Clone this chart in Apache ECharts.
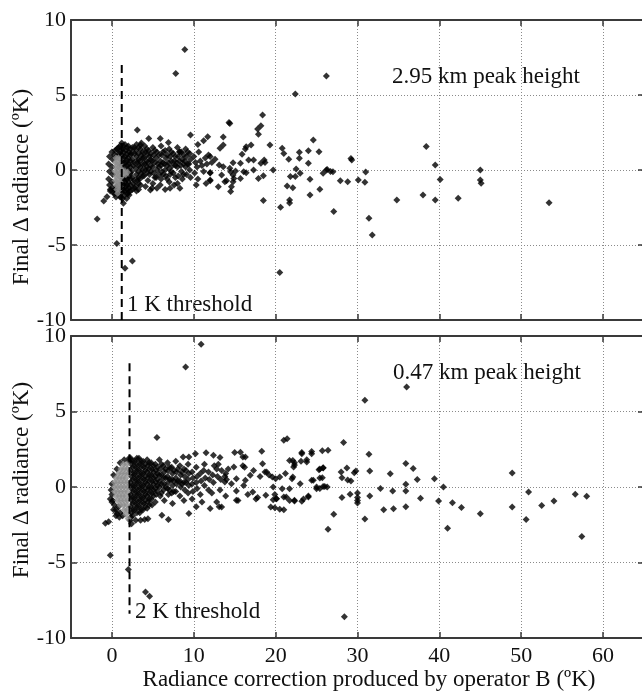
<!DOCTYPE html>
<html><head><meta charset="utf-8">
<script src="https://cdn.jsdelivr.net/npm/echarts@6.0.0/dist/echarts.min.js"></script>
<style>html,body{margin:0;padding:0;background:#fff;}#c{width:642px;height:694px;}</style>
</head><body><div id="c"></div>
<script>
// ---------- data ----------
const xTickValues = [0, 10, 20, 30, 40, 50, 60];
const yTickValues = [-10, -5, 0, 5, 10];

// top panel (2.95 km peak height)
const topCluster = [
[-0.3,0.9],[-0.4,0.4],[-0.3,-0.1],[-0.4,-0.6],[-0.3,-1.0],[-0.2,-1.3],
[0,1.2],[0.1,0.7],[0,0.2],[0.1,-0.3],[0,-0.8],[0.1,-1.2],[0.2,-1.5],
[0.4,1.3],[0.3,1.0],[0.4,-1.3],[0.3,-1.6],[0.5,-1.8],
[0.8,1.5],[0.9,1.1],[0.8,-1.4],[0.9,-1.7],
[1.2,1.8],[1.3,1.4],[1.2,1.0],[1.3,0.6],[1.2,0.3],[1.3,-0.6],[1.2,-0.9],[1.3,-1.2],[1.2,-1.5],[1.3,-1.9],
[1.6,1.7],[1.7,1.3],[1.6,0.9],[1.7,0.5],[1.6,0.2],[1.7,-0.5],[1.6,-0.8],[1.7,-1.1],[1.6,-1.4],
[2.0,1.6],[2.1,1.2],[2.0,0.8],[2.1,0.4],[2.0,0.0],[2.1,-0.4],[2.0,-0.8],[2.1,-1.2],[2.0,-1.5],
[2.5,1.5],[2.4,1.1],[2.5,0.7],[2.6,0.3],[2.4,-0.1],[2.5,-0.5],[2.6,-0.9],[2.5,-1.3],
[3.0,1.7],[2.9,1.3],[3.0,0.9],[3.1,0.5],[2.9,0.1],[3.0,-0.3],[3.1,-0.7],[2.9,-1.1],[3.0,-1.4],
[3.5,1.4],[3.6,1.0],[3.4,0.6],[3.5,0.2],[3.6,-0.2],[3.4,-0.6],[3.5,-1.0],
[4.0,1.6],[4.1,1.2],[3.9,0.8],[4.0,0.4],[4.1,0.0],[3.9,-0.4],[4.1,-1.1],
[4.5,1.3],[4.6,0.9],[4.4,0.5],[4.5,0.1],[4.6,-0.3],[4.4,-0.7],
[5.0,1.5],[5.1,1.0],[4.9,0.6],[5.0,0.2],[5.1,-0.2],[5.0,-0.9],[4.9,-1.2],
[5.5,1.2],[5.4,0.8],[5.6,0.4],[5.5,0.0],[5.4,-0.5],
[6.0,1.6],[6.1,1.0],[5.9,0.6],[6.0,0.3],[6.1,-0.1],[6.0,-0.6],[5.9,-1.0],
[6.5,1.3],[6.6,0.8],[6.4,0.4],[6.5,0.0],[6.6,-0.4],[6.5,-1.3],
[7.0,1.4],[7.1,0.9],[6.9,0.5],[7.0,0.1],[7.1,-0.3],[7.0,-0.8],
[7.5,1.1],[7.6,0.6],[7.4,0.3],[7.5,-0.2],[7.6,-1.0],
[8.0,1.5],[8.1,0.9],[7.9,0.5],[8.0,0.2],[8.1,-0.4],[8.0,-0.9],
[8.5,1.2],[8.6,0.7],[8.4,0.3],[8.5,-0.1],[8.6,-0.6],
[9.0,1.4],[9.1,0.9],[8.9,0.6],[9.0,0.2],[9.1,-0.3],
[9.5,1.1],[9.6,0.7],[9.4,0.4],[9.5,0.0],[9.6,-0.5],
[10.0,0.9],[10.2,0.5],[10.4,0.2],[10.1,-0.2],[10.6,1.2],[10.8,0.6],[11.0,0.3],[11.2,-0.1],
[11.4,0.8],[11.6,0.4],[11.8,1.0],[12.2,0.5],[10.5,-0.6],[11.5,-0.9],[10.3,-1.0]
];
const topClusterFill = [
[0.6,1.4],[0.6,0.9],[0.6,-1.1],[0.6,-1.5],[1.0,1.6],[1.0,1.2],[1.0,-1.4],[1.0,-1.8],
[1.4,1.6],[1.4,1.2],[1.4,0.8],[1.45,0.45],[1.4,-0.7],[1.4,-1.0],[1.4,-1.35],[1.5,-1.7],
[1.85,1.5],[1.85,1.05],[1.85,0.65],[1.85,0.3],[1.85,-0.6],[1.85,-1.0],[1.85,-1.3],[1.9,-1.6],
[2.25,1.4],[2.25,1.0],[2.25,0.6],[2.25,0.2],[2.25,-0.2],[2.25,-0.6],[2.25,-1.0],[2.25,-1.4],
[2.75,1.5],[2.75,1.1],[2.75,0.5],[2.75,-0.7],[2.75,-1.2],
[3.25,1.5],[3.25,1.1],[3.25,0.7],[3.25,0.3],[3.25,-0.1],[3.25,-0.5],[3.25,-0.9],[3.25,-1.3],
[3.75,1.2],[3.75,0.8],[3.75,0.4],[3.75,0.0],[3.75,-0.4],
[4.25,1.4],[4.25,1.0],[4.25,0.6],[4.25,0.2],[4.25,-0.2],
[4.75,1.1],[4.75,0.7],[4.75,0.3],[4.75,-0.1],[5.25,1.3],[5.25,0.5],[5.25,-0.5],
[5.75,1.0],[5.75,0.2],[5.75,-0.3],[6.25,1.2],[6.25,0.5],[6.25,-0.3],[6.75,1.0],[6.75,0.3],[6.75,-0.6],
[7.25,1.2],[7.25,0.6],[7.25,-0.1],[7.75,0.9],[7.75,0.3],[7.75,-0.5],[8.25,1.2],[8.25,0.6],
[8.75,1.0],[8.75,0.4],[8.75,-0.3],[9.25,1.2],[9.25,0.4]
];
const topScatter = [
[8.9,8.04],[7.8,6.44],[26.2,6.27],[22.4,5.07],[20.5,-6.84],[0.6,-4.9],[1.6,-6.55],[2.5,-6.07],
[-1.8,-3.27],[-1.0,-2.07],[-0.6,-1.78],[-0.2,-1.4],[1.4,-2.22],[1.8,-1.9],[2.1,-1.67],
[3.1,2.67],[4.5,2.1],[5.9,2.1],[6.9,1.84],[3.5,1.67],[3.6,1.8],[8.3,1.22],[9.6,2.33],
[11.7,2.22],[11.2,1.95],[10.5,1.7],[7.1,-1.22],[8.3,-1.22],[4.7,-1.33],[5.5,-1.22],[12.0,-0.67],[12.0,-0.2],
[18.4,3.67],[14.4,3.1],[18.2,2.95],[17.8,2.73],[17.9,2.38],[13.6,2.2],[13.6,1.67],[13.2,1.45],
[16.4,1.55],[16.3,1.4],[17.0,1.67],[19.3,1.67],[20.8,1.45],[21.0,1.1],[24.6,2.0],[22.9,1.18],
[24.0,1.29],[25.3,1.22],[22.9,0.78],[21.6,0.71],[24.0,0.45],[15.9,1.05],[16.7,0.67],[17.3,0.67],
[18.2,0.45],[18.6,0.67],[18.7,0.5],[14.8,0.49],[15.7,0.45],[12.6,0.71],[12.0,0.9],[13.1,0.33],
[13.6,0.22],[14.4,0.11],[14.5,-0.11],[15.1,-0.07],[16.1,-0.11],[17.3,0],[19.7,0],[22.5,0.07],
[26.3,0.04],[25.8,-0.22],[26.7,-0.1],[12.0,-0.16],[12.0,-0.71],[13.4,-0.33],[14.0,-0.71],
[14.8,-0.33],[14.9,-0.56],[14.8,-0.78],[15.7,-0.56],[16.4,-0.18],[17.9,-0.56],[18.5,-0.38],
[21.8,-0.44],[22.4,-0.44],[23.0,-0.22],[24.2,-0.62],[13.0,-1.11],[13.8,-0.78],[14.6,-1.11],
[14.5,-1.44],[21.4,-1.07],[22.1,-1.18],[25.4,-1.29],[24.2,-1.67],[18.5,-2.04],[20.6,-2.49],
[21.7,-2.0],[21.7,-2.2],[14.3,3.16],
[26.2,0],[27.0,-0.11],[27.9,-0.71],[28.8,-0.78],[27.1,-2.76],[29.2,0.76],[29.3,0.67],
[30.1,-0.67],[30.9,-0.82],[31.0,-0.13],[31.4,-3.22],[31.8,-4.33],[34.8,-2.0],[38.0,-1.67],
[38.4,1.56],[39.5,0.33],[39.5,-2.0],[40.1,-0.64],[42.3,-1.89],[45.0,0],[45.0,-0.67],[45.1,-0.89],[53.4,-2.18]
];
const topGray = [
[0.5,0.8],[0.8,0.8],[1.0,0.7],[0.4,0.5],[0.7,0.5],[1.0,0.4],[0.5,0.2],[0.8,0.2],[1.1,0.1],
[0.4,-0.1],[0.7,-0.1],[1.0,-0.2],[1.3,-0.1],[1.6,-0.1],[1.9,-0.15],[1.4,-0.3],[1.7,-0.3],
[0.5,-0.4],[0.8,-0.4],[1.1,-0.5],[0.4,-0.7],[0.7,-0.7],[1.0,-0.8],[0.5,-1.0],[0.8,-1.0],
[1.0,-1.1],[0.6,-1.3],[0.9,-1.3],[0.7,-1.55]
];
const topThreshold = [[1.2, 7], [1.2, -10]];

// bottom panel (0.47 km peak height)
const bottomCluster = [
[0.0,-0.5],[0.1,-0.9],[0.3,-1.2],[0.5,-1.5],[0.8,-1.3],[1.0,-1.7],[1.3,-1.9],[0.2,0.8],[0.6,1.2],[1.0,1.6],[1.5,1.8],[0.0,0.2],[-0.1,-0.2],
[2.3,1.9],[2.4,1.5],[2.3,1.1],[2.4,0.7],[2.3,0.3],[2.4,-0.1],[2.3,-0.5],[2.4,-0.9],[2.3,-1.3],[2.4,-1.7],[2.3,-2.0],
[2.8,1.7],[2.9,1.3],[2.8,0.9],[2.9,0.5],[2.8,0.1],[2.9,-0.3],[2.8,-0.7],[2.9,-1.1],[2.8,-1.5],
[3.3,1.9],[3.4,1.5],[3.3,1.1],[3.4,0.7],[3.3,0.3],[3.4,-0.1],[3.3,-0.5],[3.4,-0.9],[3.3,-1.3],[3.4,-1.7],
[3.8,1.7],[3.9,1.3],[3.8,0.9],[3.9,0.5],[3.8,0.1],[3.9,-0.3],[3.8,-0.7],[3.9,-1.1],[3.8,-1.5],
[4.3,1.8],[4.4,1.4],[4.3,1.0],[4.4,0.6],[4.3,0.2],[4.4,-0.2],[4.3,-0.6],[4.4,-1.0],[4.3,-1.4],
[4.8,1.6],[4.9,1.2],[4.8,0.8],[4.9,0.4],[4.8,0.0],[4.9,-0.4],[4.8,-0.8],[4.9,-1.2],
[5.3,1.5],[5.4,1.1],[5.3,0.7],[5.4,0.3],[5.3,-0.1],[5.4,-0.5],[5.3,-1.0],
[5.8,1.8],[5.9,1.2],[5.8,0.8],[5.9,0.4],[5.8,0.0],[5.9,-0.6],
[6.3,1.4],[6.4,1.0],[6.3,0.6],[6.4,0.2],[6.3,-0.2],[6.4,-0.9],
[6.8,1.6],[6.9,1.1],[6.8,0.7],[6.9,0.3],[6.8,-0.1],[6.9,-0.5],
[7.3,1.3],[7.4,0.9],[7.3,0.5],[7.4,0.1],[7.3,-0.4],[7.4,-1.1],
[7.8,1.7],[7.9,1.0],[7.8,0.6],[7.9,0.2],[7.8,-0.3],
[8.3,1.4],[8.4,0.8],[8.3,0.4],[8.4,0.0],[8.3,-0.6],
[8.8,1.2],[8.9,0.7],[8.8,0.3],[8.9,-0.2],[8.8,-0.9],
[9.3,1.5],[9.4,0.9],[9.3,0.5],[9.4,0.1],[9.3,-0.4],
[9.8,1.0],[9.9,0.6],[9.8,0.2],[9.9,-0.3],[9.8,-0.8],
[10.3,1.3],[10.4,0.7],[10.3,0.3],[10.4,-0.1],[10.8,0.9],[10.9,0.4],[10.8,-0.5],[11.3,1.5],[11.4,0.6],
[11.3,0.1],[11.8,1.0],[11.9,0.5],[11.8,-0.2],[12.3,0.8],[12.4,0.3],[12.8,1.2],[12.9,0.7],[13.3,0.5],
[13.4,1.1],[13.8,0.7],[13.9,0.9],[12.5,1.4],[13.0,1.5],[14.2,1.2],[14.0,0.5],[12.2,-0.4],[13.2,-0.2],[11.0,-1.0]
];
const bottomClusterFill = [
[0.0,-1.0],[0.2,-1.5],[0.5,-1.9],[0.9,-2.0],[-0.2,-0.8],[2.1,1.7],[2.1,1.9],[2.2,-2.2],
[2.55,1.7],[2.55,1.3],[2.55,0.9],[2.55,0.5],[2.55,0.1],[2.55,-0.3],[2.55,-0.7],[2.55,-1.1],[2.55,-1.5],[2.55,-1.9],
[3.05,1.9],[3.05,1.5],[3.05,1.1],[3.05,0.7],[3.05,0.3],[3.05,-0.1],[3.05,-0.5],[3.05,-0.9],[3.05,-1.3],[3.05,-1.7],
[3.55,1.7],[3.55,1.3],[3.55,0.9],[3.55,0.5],[3.55,0.1],[3.55,-0.3],[3.55,-0.7],[3.55,-1.1],[3.55,-1.5],
[4.05,1.5],[4.05,1.1],[4.05,0.7],[4.05,0.3],[4.05,-0.1],[4.05,-0.5],[4.05,-0.9],[4.05,-1.3],
[4.55,1.6],[4.55,1.2],[4.55,0.8],[4.55,0.4],[4.55,0.0],[4.55,-0.4],[4.55,-0.8],[4.55,-1.2],
[5.05,1.4],[5.05,1.0],[5.05,0.6],[5.05,0.2],[5.05,-0.2],[5.05,-0.6],
[5.55,1.3],[5.55,0.9],[5.55,0.5],[5.55,0.1],[5.55,-0.3],
[6.05,1.5],[6.05,0.8],[6.05,0.2],[6.05,-0.4],[6.55,1.2],[6.55,0.6],[6.55,0.0],
[7.05,1.3],[7.05,0.5],[7.05,-0.2],[7.55,1.1],[7.55,0.4],[7.55,-0.3],
[8.05,1.2],[8.05,0.4],[8.55,1.0],[8.55,0.2],[9.05,1.1],[9.05,0.3]
];
const bottomScatter = [
[10.9,9.45],[9.0,7.95],[5.5,3.27],[-0.2,-4.52],[2.0,-5.47],[4.1,-6.95],[4.6,-7.24],[-0.8,-2.4],[-0.4,-2.3],
[0.6,-1.76],[2.4,-2.43],[2.9,-2.2],[3.5,-2.2],[4.0,-2.15],[4.4,-2.1],[6.1,-1.87],[6.9,-2.16],[9.4,-1.76],
[10.3,-1.3],[12.0,-1.43],[13.1,-1.3],[15.4,-0.9],[16.6,-0.5],[17.6,-0.8],[19.4,-1.32],[20.5,-1.48],
[20.1,-0.78],[21.0,-0.66],[21.7,-0.9],[22.3,-0.93],[23.2,-0.95],[24.0,-0.6],[21.0,3.09],[21.4,3.2],
[22.1,1.76],[22.3,1.45],[23.2,2.2],[23.8,1.66],[24.4,2.2],[25.4,1.2],[25.0,0],[24.6,0.44],[26.3,0],
[15.0,2.28],[15.7,2.3],[16.0,1.98],[13.2,1.95],[12.4,2.1],[11.5,2.26],[10.2,2.2],[9.4,1.98],[8.7,1.98],
[11.2,1.1],[14.9,1.33],[18.3,2.36],[18.4,1.54],[18.9,1.0],[19.6,0.67],[20.5,0.67],[22.0,0.55],[23.0,0.22],
[16.3,1.99],[16.0,1.4],[16.2,1.3],[23.2,2.28],[24.4,2.35],[25.7,2.4],[21.7,1.76],[22.3,1.6],[22.2,1.33],
[23.8,1.8],[23.1,1.7],[25.3,1.15],[25.8,1.26],[17.3,1.1],[18.7,1.0],[19.2,0.8],[18.1,0.7],[20.0,0.55],
[22.1,0.66],[21.2,0.9],[24.4,0.44],[25.4,0.6],[16.9,0.77],[16.3,0.44],[15.2,0.55],[14.6,0.22],[13.8,0.33],
[19.7,0],[20.8,-0.11],[21.7,-0.11],[25.0,-0.11],[25.8,0.04],[16.1,0.1],[17.2,-0.33],[15.2,-0.26],[13.9,-0.6],
[17.8,-0.7],[18.8,-0.55],[19.9,-0.5],[20.1,-0.77],[21.3,-0.66],[22.3,-0.88],[23.4,-0.8],[24.0,-0.66],
[19.7,-0.85],[15.2,-0.88],[13.4,-1.32],[12.8,-0.99],[19.9,-1.37],[21.0,-1.5],
[36.0,6.62],[30.9,5.74],[26.4,2.43],[28.3,2.94],[31.4,2.17],[31.5,1.06],[25.8,1.28],[25.7,0.62],[26.0,0.04],
[25.4,-0.1],[28.0,0.99],[28.1,0.62],[28.7,1.26],[28.8,0.46],[29.2,0.4],[29.6,0.95],[29.8,1.06],[28.1,-0.7],
[29.1,-0.48],[27.1,-1.81],[26.4,-2.8],[28.4,-8.6],[30.0,-0.4],[30.0,-0.7],[30.0,-0.9],[30.0,-1.06],
[30.9,-2.12],[31.5,-0.6],[32.8,-0.1],[33.2,-1.5],[34.0,0.88],[34.3,-0.26],[34.4,-1.44],[35.9,1.55],
[35.9,0.19],[35.9,-0.26],[35.9,-1.3],[36.8,1.22],[37.3,0.5],[37.7,-0.75],[39.4,0.55],[40.5,0],[39.9,-0.92],
[41.0,-2.74],[41.6,-1.05],[42.7,-1.36],[45.0,-1.77],[48.9,0.93],[48.9,-1.32],[50.9,-0.33],[50.6,-2.15],
[52.5,-1.23],[54.0,-0.92],[56.6,-0.48],[58.0,-0.61],[57.4,-3.27]
];
const bottomGray = [
[1.4,1.5],[1.8,1.5],[1.1,1.2],[1.5,1.2],[1.9,1.2],[0.8,0.9],[1.2,0.9],[1.6,0.9],[2.0,0.9],
[0.5,0.6],[0.9,0.6],[1.3,0.6],[1.7,0.6],[0.3,0.3],[0.7,0.3],[1.1,0.3],[1.5,0.3],[1.9,0.3],
[0.3,0.0],[0.7,0.0],[1.1,0.0],[1.5,0.0],[1.9,0.0],[0.3,-0.3],[0.7,-0.3],[1.1,-0.3],[1.5,-0.3],[1.9,-0.3],
[0.5,-0.6],[0.9,-0.6],[1.3,-0.6],[1.7,-0.6],[0.7,-0.9],[1.1,-0.9],[1.5,-0.9],[1.9,-0.9],
[1.0,-1.2],[1.4,-1.2],[1.8,-1.2],[1.5,-1.5],[1.9,-1.5],[1.7,-1.8],[2.0,-2.1]
];
const bottomThreshold = [[2.15, 8.2], [2.15, -8.4]];

const panelLabels = ['2.95 km peak height', '0.47 km peak height'];
const thresholdLabels = ['1 K threshold', '2 K threshold'];
const yName = 'Final \u0394 radiance (\u00BAK)';
const xName = 'Radiance correction produced by operator B (\u00BAK)';

// ---------- chart ----------
const FONT = '"Liberation Serif", "Times New Roman", serif';
const AXIS_COLOR = '#3a3a3a';
const chart = echarts.init(document.getElementById('c'), null, {renderer: 'canvas'});

const grids = [
  {left: 71, top: 20, width: 573, height: 300, outerBoundsMode: 'none', containLabel: false},
  {left: 71, top: 336, width: 573, height: 302, outerBoundsMode: 'none', containLabel: false}
];

function xAx(gi, pos, labels) {
  return {
    type: 'value', gridIndex: gi, position: pos, min: -5, max: 65,
    splitNumber: 7, minInterval: 10, maxInterval: 10,
    axisLine: {show: true, onZero: false, lineStyle: {color: AXIS_COLOR, width: 2}},
    axisTick: {show: true, inside: true, length: 6, lineStyle: {color: AXIS_COLOR, width: 1.5}},
    axisLabel: {show: labels, margin: 7, color: '#111', fontFamily: FONT, fontSize: 22,
      showMinLabel: false, showMaxLabel: false,
      formatter: v => (xTickValues.indexOf(v) >= 0 ? String(v) : '')},
    splitLine: {show: pos === 'bottom', lineStyle: {color: '#8a8a8a', width: 1, type: [1, 2]}}
  };
}
function yAx(gi, pos, labels) {
  return {
    type: 'value', gridIndex: gi, position: pos, min: yTickValues[0], max: yTickValues[yTickValues.length - 1], interval: 5,
    axisLine: {show: true, onZero: false, lineStyle: {color: AXIS_COLOR, width: 2}},
    axisTick: {show: true, inside: true, length: 6, lineStyle: {color: AXIS_COLOR, width: 1.5}},
    axisLabel: {show: labels, margin: 5, color: '#111', fontFamily: FONT, fontSize: 22},
    splitLine: {show: pos === 'left', lineStyle: {color: '#8a8a8a', width: 1, type: [1, 2]}}
  };
}

function panelSeries(k, cluster, scatter, gray, thr) {
  const xi = k * 2, yi = k * 2;
  return [
    {type: 'scatter', xAxisIndex: xi, yAxisIndex: yi, data: cluster.concat(scatter),
     symbol: 'diamond', symbolSize: 7, itemStyle: {color: '#000'}, silent: true},
    {type: 'scatter', xAxisIndex: xi, yAxisIndex: yi, data: gray,
     symbol: 'diamond', symbolSize: 7, itemStyle: {color: '#8c8c8c'}, silent: true},
    {type: 'line', xAxisIndex: xi, yAxisIndex: yi, data: thr, symbol: 'none',
     lineStyle: {color: '#000', width: 2, type: [8, 5]}, silent: true}
  ];
}

const txt = (text, x, y) => ({
  type: 'text', x: x, y: y,
  style: {text: text, font: '23px ' + FONT, fill: '#111', textAlign: 'left', textVerticalAlign: 'middle',
          align: 'left', verticalAlign: 'middle'}
});

const option = {
  animation: false,
  backgroundColor: '#fff',
  grid: grids,
  xAxis: [xAx(0, 'bottom', false), xAx(0, 'top', false), xAx(1, 'bottom', true), xAx(1, 'top', false)],
  yAxis: [yAx(0, 'left', true), yAx(0, 'right', false), yAx(1, 'left', true), yAx(1, 'right', false)],
  series: [].concat(
    panelSeries(0, topCluster.concat(topClusterFill), topScatter, topGray, topThreshold),
    panelSeries(1, bottomCluster.concat(bottomClusterFill), bottomScatter, bottomGray, bottomThreshold)
  ),
  graphic: [
    txt(panelLabels[0], 392, 77),
    txt(panelLabels[1], 393, 373),
    txt(thresholdLabels[0], 127, 305),
    txt(thresholdLabels[1], 135, 612),
    {type: 'text', x: 22, y: 187, rotation: Math.PI / 2,
     style: {text: yName, font: '23px ' + FONT, fill: '#111', textAlign: 'center', textVerticalAlign: 'middle', align: 'center', verticalAlign: 'middle'}},
    {type: 'text', x: 22, y: 480, rotation: Math.PI / 2,
     style: {text: yName, font: '23px ' + FONT, fill: '#111', textAlign: 'center', textVerticalAlign: 'middle', align: 'center', verticalAlign: 'middle'}},
    {type: 'text', x: 369, y: 680,
     style: {text: xName, font: '23px ' + FONT, fill: '#111', textAlign: 'center', textVerticalAlign: 'middle', align: 'center', verticalAlign: 'middle'}}
  ]
};
chart.setOption(option);
</script>
</body></html>
